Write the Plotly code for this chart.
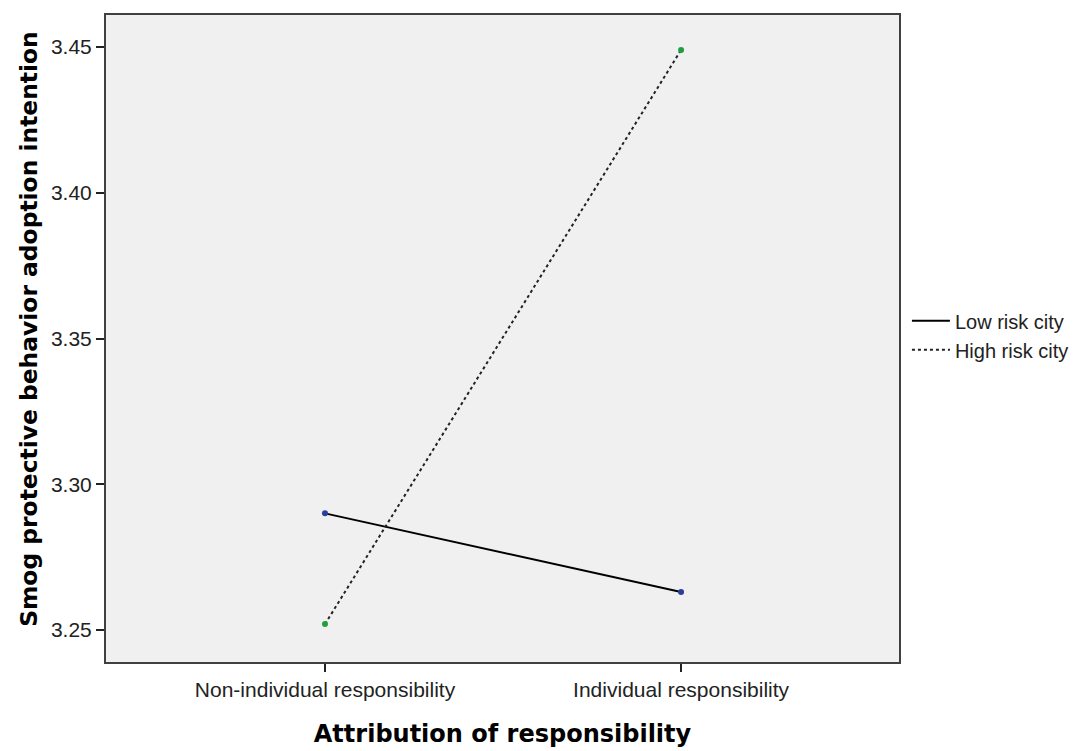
import plotly.graph_objects as go

categories = ["Non-individual responsibility", "Individual responsibility"]
low_risk = [3.290, 3.263]
high_risk = [3.252, 3.449]
y_ticks = [3.25, 3.30, 3.35, 3.40, 3.45]
y_tick_labels = ["3.25", "3.30", "3.35", "3.40", "3.45"]
series_names = ["Low risk city", "High risk city"]

fig = go.Figure()
fig.add_trace(go.Scatter(
    x=categories, y=low_risk, name=series_names[0], mode="lines+markers",
    line=dict(color="black", width=2, dash="solid"),
    marker=dict(color="#2a3f9a", size=6), showlegend=False, legendgroup="low"))
fig.add_trace(go.Scatter(
    x=categories, y=high_risk, name=series_names[1], mode="lines+markers",
    line=dict(color="#222222", width=2, dash="3px,3px"),
    marker=dict(color="#1ea040", size=6), showlegend=False, legendgroup="high"))
# legend entries (line samples only)
fig.add_trace(go.Scatter(
    x=[None], y=[None], name=series_names[0], mode="lines",
    line=dict(color="black", width=2, dash="solid"), legendgroup="low"))
fig.add_trace(go.Scatter(
    x=[None], y=[None], name=series_names[1], mode="lines",
    line=dict(color="#222222", width=2, dash="3px,3px"), legendgroup="high"))

tick_font = dict(family="Liberation Sans, Arial, sans-serif", size=21, color="#222222")
legend_font = dict(family="Liberation Sans, Arial, sans-serif", size=20, color="#222222")
title_font = dict(family="DejaVu Sans, Verdana, sans-serif", size=24, color="black")

fig.update_layout(
    width=1085, height=751,
    margin=dict(l=98, r=194, t=5, b=97),
    paper_bgcolor="white", plot_bgcolor="#F0F0F0",
    font=tick_font,
    legend=dict(x=1.01, y=0.505, xanchor="left", yanchor="middle",
                font=legend_font, bgcolor="rgba(0,0,0,0)",
                tracegroupgap=0, itemwidth=38),
    showlegend=True,
    annotations=[dict(
        text="<b>Smog protective behavior adoption intention</b>",
        xref="paper", yref="paper", x=-0.097, y=0.515,
        xanchor="center", yanchor="middle", textangle=-90,
        showarrow=False, font=dict(family="DejaVu Sans, Verdana, sans-serif", size=23.4, color="black"))],
)
fig.update_xaxes(
    type="category", range=[-0.615, 1.612], tickfont=tick_font,
    showline=True, linecolor="#404040", linewidth=2, mirror=True,
    ticks="outside", ticklen=8, tickcolor="#222222", tickwidth=2,
    showgrid=False, zeroline=False,
    title=dict(text="<b>Attribution of responsibility</b>", font=title_font, standoff=25),
)
fig.update_yaxes(
    range=[3.239, 3.461], tickvals=y_ticks, ticktext=y_tick_labels, tickfont=tick_font,
    showline=True, linecolor="#404040", linewidth=2, mirror=True,
    ticks="outside", ticklen=8, tickcolor="#222222", tickwidth=2,
    showgrid=False, zeroline=False,
)

fig.write_html("out.html")
